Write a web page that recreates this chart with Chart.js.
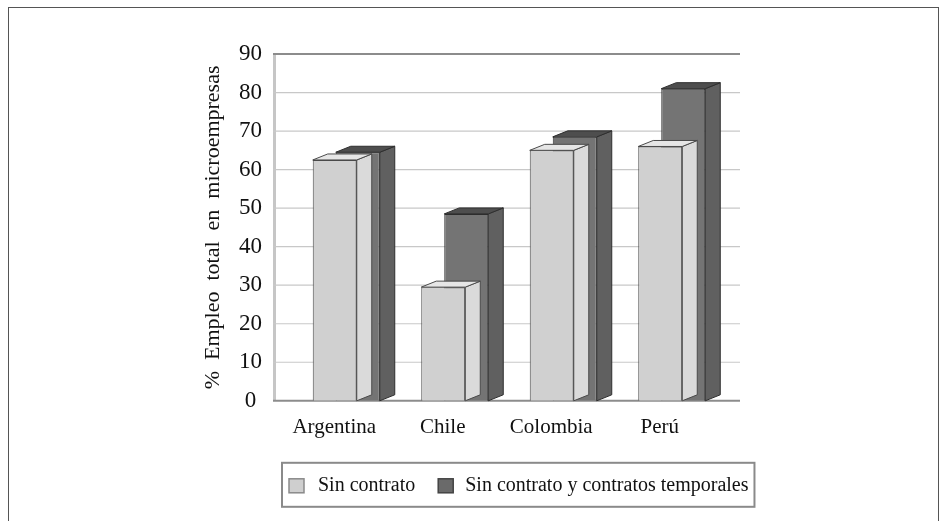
<!DOCTYPE html>
<html><head><meta charset="utf-8">
<script src="https://cdn.jsdelivr.net/npm/chart.js@4"></script>
<style>
html,body{margin:0;padding:0;background:#fff;}
#wrap{position:relative;width:941px;height:521px;overflow:hidden;background:#fff;}
#frame{position:absolute;left:8px;top:7px;width:931px;height:540px;border:1.5px solid #555;border-bottom:none;box-sizing:border-box;}
canvas{position:absolute;left:0;top:0;}
</style></head><body>
<div id="wrap"><div id="frame"></div><canvas id="c" width="941" height="521"></canvas></div>
<script>
const categories = ['Argentina', 'Chile', 'Colombia', 'Perú'];
const sinContrato = [62.5, 29.5, 65, 66];
const sinContratoTemporales = [64.5, 48.5, 68.5, 81];
const seriesLabels = ['Sin contrato', 'Sin contrato y contratos temporales'];
const yTicks = [0, 10, 20, 30, 40, 50, 60, 70, 80, 90];
const yTitle = '%  Empleo  total  en  microempresas';

const SERIF = '"Liberation Serif", "Times New Roman", serif';
const depth = {dx: 15, dy: 6};
const faceStyles = [
  {side: '#dadada', top: '#e6e6e6', edge: '#4a4a4a'},
  {side: '#606060', top: '#4e4e4e', edge: '#2e2e2e'}
];
const legendSwatch = [
  {fill: '#cfcfcf', edge: '#8a8a8a'},
  {fill: '#6a6a6a', edge: '#444'}
];

const bar3d = {
  id: 'bar3d',
  afterDatasetDraw(chart, args) {
    const st = faceStyles[args.index];
    const ctx = chart.ctx;
    const {dx, dy} = depth;
    ctx.save();
    ctx.lineWidth = 1;
    ctx.strokeStyle = st.edge;
    ctx.lineJoin = 'round';
    args.meta.data.forEach(el => {
      const {x, y, base, width} = el.getProps(['x', 'y', 'base', 'width'], true);
      const l = x - width / 2, r = x + width / 2;
      ctx.beginPath();
      ctx.moveTo(r, y); ctx.lineTo(r + dx, y - dy); ctx.lineTo(r + dx, base - dy); ctx.lineTo(r, base);
      ctx.closePath();
      ctx.fillStyle = st.side; ctx.fill(); ctx.stroke();
      ctx.beginPath();
      ctx.moveTo(l, y); ctx.lineTo(l + dx, y - dy); ctx.lineTo(r + dx, y - dy); ctx.lineTo(r, y);
      ctx.closePath();
      ctx.fillStyle = st.top; ctx.fill(); ctx.stroke();
    });
    ctx.restore();
  }
};

const wallGrid = {
  id: 'wallGrid',
  beforeDatasetsDraw(chart) {
    const ctx = chart.ctx, ca = chart.chartArea, ys = chart.scales.y;
    const x0 = ca.left - 19, x1 = ca.right + 14;
    ctx.save();
    ctx.strokeStyle = '#c6c6c6';
    ctx.lineWidth = 3;
    ctx.beginPath();
    ctx.moveTo(x0 + 1.5, ys.getPixelForValue(ys.max));
    ctx.lineTo(x0 + 1.5, ys.getPixelForValue(ys.min));
    ctx.stroke();
    ys.ticks.forEach(t => {
      const y = ys.getPixelForValue(t.value);
      const edge = (t.value === ys.min || t.value === ys.max);
      ctx.strokeStyle = edge ? '#8c8c8c' : '#c8c8c8';
      ctx.lineWidth = edge ? 2 : 1.2;
      ctx.beginPath();
      ctx.moveTo(x0, y);
      ctx.lineTo(x1, y);
      ctx.stroke();
    });
    ctx.restore();
  }
};

const boxedLegend = {
  id: 'boxedLegend',
  afterDraw(chart) {
    const ctx = chart.ctx, ca = chart.chartArea;
    ctx.save();
    ctx.font = '20px ' + SERIF;
    const left = ca.left - 10, top = ca.bottom + 62, h = 44, cy = top + h / 2 + 1;
    let x = left + 7;
    ctx.textBaseline = 'middle';
    ctx.textAlign = 'left';
    chart.data.datasets.forEach((ds, i) => {
      const sw = legendSwatch[i];
      ctx.fillStyle = sw.fill;
      ctx.strokeStyle = sw.edge;
      ctx.lineWidth = 1.5;
      ctx.fillRect(x, cy - 7, 15, 14);
      ctx.strokeRect(x, cy - 7, 15, 14);
      x += 15 + (i === 0 ? 14 : 12);
      ctx.fillStyle = '#111';
      ctx.fillText(ds.label, x, cy);
      x += ctx.measureText(ds.label).width + 23;
    });
    const right = x - 23 + 6;
    ctx.strokeStyle = '#8a8a8a';
    ctx.lineWidth = 2;
    ctx.strokeRect(left, top, right - left, h);
    ctx.restore();
  }
};

new Chart(document.getElementById('c'), {
  type: 'bar',
  data: {
    labels: categories,
    datasets: [
      {label: seriesLabels[0], data: sinContrato, backgroundColor: '#d0d0d0', borderColor: '#4a4a4a', borderWidth: 1},
      {label: seriesLabels[1], data: sinContratoTemporales, backgroundColor: '#747474', borderColor: '#2e2e2e', borderWidth: 1}
    ]
  },
  options: {
    responsive: false,
    animation: false,
    events: [],
    categoryPercentage: 0.424,
    barPercentage: 1.913,
    layout: {padding: {left: 200, right: 215, top: 54, bottom: 67}},
    plugins: {legend: {display: false}, tooltip: {enabled: false}},
    scales: {
      x: {
        grid: {display: false, drawTicks: false},
        border: {display: false},
        ticks: {font: {family: SERIF, size: 21}, color: '#111', padding: 14, labelOffset: -12, maxRotation: 0}
      },
      y: {
        min: 0, max: 90,
        afterBuildTicks: s => { s.ticks = yTicks.map(v => ({value: v})); },
        afterFit: s => { s.width = 92; },
        grid: {display: false, drawTicks: false},
        border: {display: false},
        ticks: {font: {family: SERIF, size: 23}, color: '#111', padding: 30, crossAlign: 'center'},
        title: {display: true, text: yTitle, font: {family: SERIF, size: 22}, color: '#111', padding: 0}
      }
    }
  },
  plugins: [wallGrid, bar3d, boxedLegend]
});
</script>
</body></html>
